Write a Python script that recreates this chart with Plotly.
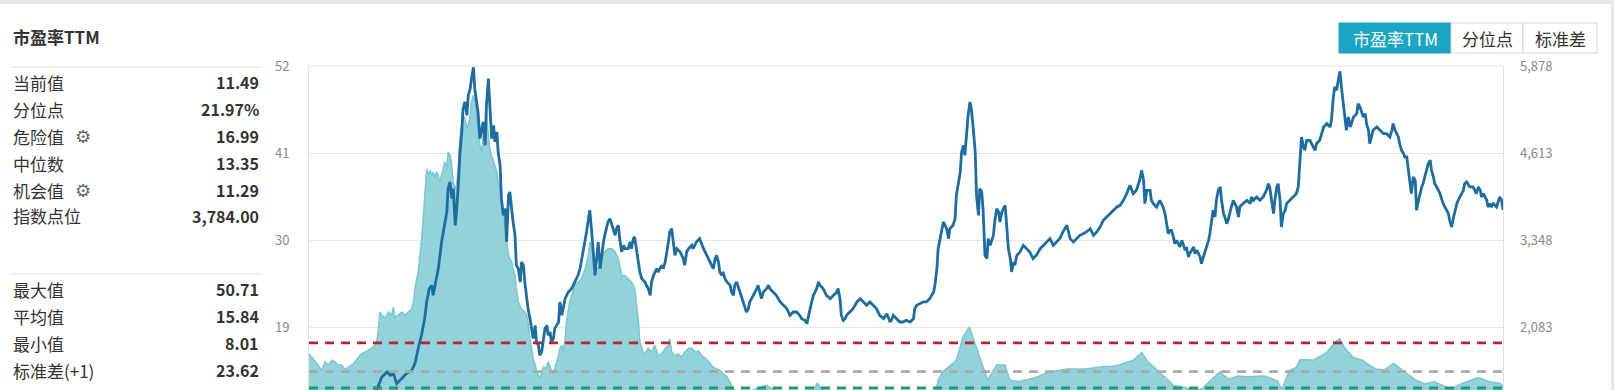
import plotly.graph_objects as go

# ---------------- data ----------------
# index points (right axis) : decimal year, value
idx_t = [2005.27, 2005.35, 2005.45, 2005.50, 2005.60, 2005.70, 2005.80, 2005.95, 2006.05, 2006.15, 2006.25,
         2006.31, 2006.39, 2006.47, 2006.52, 2006.57, 2006.62, 2006.70, 2006.77, 2006.85, 2006.90, 2006.95,
         2007.00, 2007.05, 2007.08, 2007.12, 2007.16, 2007.18, 2007.21, 2007.26, 2007.31, 2007.36, 2007.39,
         2007.41, 2007.44, 2007.47, 2007.49, 2007.52, 2007.54, 2007.57, 2007.59, 2007.62, 2007.64, 2007.67,
         2007.70, 2007.72, 2007.75, 2007.77, 2007.80, 2007.82, 2007.85, 2007.87, 2007.90, 2007.93, 2007.95,
         2007.98, 2008.00, 2008.03, 2008.05, 2008.08, 2008.11, 2008.13, 2008.16, 2008.18, 2008.21, 2008.23,
         2008.26, 2008.29, 2008.31, 2008.34, 2008.36, 2008.39, 2008.41, 2008.44, 2008.46, 2008.49, 2008.52,
         2008.54, 2008.57, 2008.59, 2008.62, 2008.64, 2008.67, 2008.70, 2008.72, 2008.75, 2008.77, 2008.80,
         2008.82, 2008.85, 2008.88, 2008.90, 2008.93, 2008.95, 2008.98, 2009.00, 2009.03, 2009.05, 2009.11,
         2009.13, 2009.16, 2009.18, 2009.21, 2009.26, 2009.31, 2009.36, 2009.41, 2009.44, 2009.46, 2009.49,
         2009.52, 2009.54, 2009.57, 2009.59, 2009.62, 2009.64, 2009.67, 2009.70, 2009.72, 2009.75, 2009.77,
         2009.80, 2009.82, 2009.85, 2009.87, 2009.90, 2009.93, 2009.95, 2009.98, 2010.00, 2010.03, 2010.05,
         2010.08, 2010.11, 2010.13, 2010.18, 2010.21, 2010.23, 2010.26, 2010.28, 2010.31, 2010.34, 2010.36,
         2010.39, 2010.44, 2010.46, 2010.49, 2010.52, 2010.54, 2010.57, 2010.59, 2010.62, 2010.64, 2010.70,
         2010.72, 2010.75, 2010.80, 2010.82, 2010.85, 2010.88, 2010.90, 2010.93, 2010.98, 2011.03, 2011.05,
         2011.08, 2011.11, 2011.16, 2011.18, 2011.23, 2011.28, 2011.34,
         2011.39, 2011.44, 2011.49, 2011.52, 2011.54, 2011.57, 2011.59, 2011.62, 2011.64, 2011.67, 2011.70,
         2011.75, 2011.77, 2011.80, 2011.82, 2011.85, 2011.88, 2011.90, 2011.95, 2012.00, 2012.03, 2012.05,
         2012.11, 2012.16, 2012.18, 2012.21, 2012.23, 2012.26, 2012.31, 2012.34, 2012.36, 2012.41, 2012.46,
         2012.52, 2012.57, 2012.62, 2012.67, 2012.72, 2012.77, 2012.82, 2012.85, 2012.90, 2012.93, 2012.95,
         2012.98, 2013.03, 2013.08, 2013.11, 2013.13, 2013.18, 2013.23, 2013.29, 2013.34, 2013.39, 2013.41,
         2013.44, 2013.46, 2013.49, 2013.52, 2013.54, 2013.59, 2013.64, 2013.70, 2013.75, 2013.80, 2013.85,
         2013.90, 2013.95, 2014.00, 2014.05, 2014.11, 2014.16, 2014.21, 2014.23, 2014.26, 2014.31, 2014.36,
         2014.41, 2014.46, 2014.52, 2014.57, 2014.59, 2014.62, 2014.67, 2014.72, 2014.77, 2014.82, 2014.88,
         2014.90, 2014.93, 2014.95, 2014.98, 2015.03, 2015.08, 2015.11, 2015.13, 2015.18, 2015.21, 2015.23,
         2015.29, 2015.31, 2015.34, 2015.36, 2015.39, 2015.41, 2015.44, 2015.46, 2015.49, 2015.52, 2015.54,
         2015.57, 2015.59, 2015.62, 2015.64, 2015.67, 2015.70, 2015.72, 2015.75, 2015.80, 2015.82, 2015.85,
         2015.88, 2015.90, 2015.93, 2015.95, 2015.98, 2016.00, 2016.03, 2016.06, 2016.08, 2016.11, 2016.13,
         2016.16, 2016.21, 2016.26, 2016.31, 2016.36, 2016.41, 2016.46, 2016.52, 2016.57, 2016.62, 2016.67,
         2016.72, 2016.77, 2016.82, 2016.87, 2016.93, 2016.98, 2017.03, 2017.08, 2017.13, 2017.18, 2017.23,
         2017.29, 2017.34, 2017.39,
         2017.44, 2017.49, 2017.54, 2017.59, 2017.64, 2017.70, 2017.75, 2017.80, 2017.85, 2017.90, 2017.93,
         2017.95, 2018.00, 2018.05, 2018.08, 2018.11, 2018.13, 2018.16, 2018.21, 2018.23, 2018.26, 2018.31,
         2018.36, 2018.41, 2018.44, 2018.46, 2018.49, 2018.52, 2018.54, 2018.57, 2018.59, 2018.62, 2018.67,
         2018.70, 2018.72, 2018.75, 2018.77, 2018.80, 2018.82, 2018.88, 2018.90, 2018.93, 2018.98, 2019.00,
         2019.03, 2019.08, 2019.11, 2019.13, 2019.16, 2019.18, 2019.21, 2019.23, 2019.26, 2019.29, 2019.31,
         2019.34, 2019.36, 2019.39, 2019.41, 2019.44, 2019.46, 2019.49, 2019.52, 2019.54, 2019.57, 2019.59,
         2019.64, 2019.70, 2019.75, 2019.77, 2019.80, 2019.85, 2019.90, 2019.95, 2020.00, 2020.03, 2020.05,
         2020.08, 2020.11, 2020.13, 2020.16, 2020.18, 2020.21, 2020.23, 2020.26, 2020.29, 2020.31, 2020.36,
         2020.41, 2020.46, 2020.49, 2020.52, 2020.54, 2020.57, 2020.59, 2020.62, 2020.67, 2020.72, 2020.75,
         2020.77, 2020.82, 2020.88, 2020.93, 2020.98, 2021.00, 2021.03, 2021.05, 2021.08, 2021.11, 2021.13,
         2021.16, 2021.18, 2021.21, 2021.23, 2021.26, 2021.29, 2021.34, 2021.39, 2021.41, 2021.44, 2021.49,
         2021.52, 2021.54, 2021.57, 2021.59, 2021.62, 2021.64, 2021.70, 2021.75, 2021.80, 2021.85, 2021.90,
         2021.93, 2021.95, 2021.98, 2022.00, 2022.03, 2022.05, 2022.08, 2022.11, 2022.13, 2022.16, 2022.18,
         2022.21, 2022.23, 2022.26, 2022.29, 2022.31, 2022.34, 2022.36, 2022.39, 2022.41, 2022.44, 2022.46,
         2022.49, 2022.52, 2022.54, 2022.57, 2022.59, 2022.62, 2022.67, 2022.72, 2022.77, 2022.80, 2022.82,
         2022.85, 2022.88, 2022.90, 2022.93, 2022.95, 2022.98, 2023.03, 2023.05, 2023.08, 2023.13, 2023.18,
         2023.23, 2023.26, 2023.29, 2023.31, 2023.34, 2023.39, 2023.41, 2023.44, 2023.46, 2023.49, 2023.54,
         2023.57, 2023.59, 2023.62, 2023.64]
idx_v = [985, 930, 870, 835, 900, 930, 890, 925, 990, 1070, 1130,
         1162, 1356, 1429, 1381, 1405, 1259, 1332, 1405, 1453, 1550, 1768,
         1962, 2204, 2447, 2641, 2689, 2544, 2689, 2932, 3319, 3610, 3755,
         4095, 4192, 3949, 4095, 3562, 3755, 4192, 4579, 4919, 5258, 5355,
         5161, 5452, 5549, 5694, 5860, 5549, 5355, 5210, 4822, 4967, 5064,
         4725, 5307, 5694, 5258, 4822, 5016, 4773, 4919, 4628, 4434, 3949,
         3707, 3804, 3319, 3998, 4046, 3755, 3610, 3416, 2980, 2932, 2738,
         3028, 2980, 2738, 2447, 2350, 2204, 2010, 1914, 2107, 1865, 1817,
         1671, 1720, 1962, 2059, 2107, 1962, 2011, 1865, 1914, 2059, 2156,
         2447, 2253, 2350, 2495, 2592, 2641, 2738, 2835, 2932, 3028, 3174,
         3319, 3465, 3659, 3780, 3465, 3222, 2835, 3125, 3319, 2932, 3125,
         3319, 3416, 3513, 3610, 3659, 3562, 3513, 3416, 3513, 3562, 3368,
         3174, 3271, 3222, 3222, 3319, 3222, 3368, 3392, 3174, 3028, 2883,
         2786, 2738, 2689, 2641, 2544, 2738, 2835, 2883, 2932, 2883, 2980,
         2932, 3028, 3319, 3465, 3513, 3271, 3125, 3222, 3174, 3077, 2980,
         3174, 3222, 3271, 3222, 3319, 3368, 3222,
         3125, 3028, 2932, 3077, 3125, 3028, 2883, 2835, 2883, 2786, 2738,
         2689, 2592, 2544, 2689, 2738, 2641, 2592, 2447, 2301, 2350, 2447,
         2544, 2641, 2689, 2592, 2495, 2592, 2641, 2689, 2641, 2592, 2544,
         2447, 2398, 2350, 2253, 2301, 2301, 2253, 2204, 2180, 2132, 2204,
         2350, 2544, 2641, 2738, 2689, 2641, 2544, 2495, 2544, 2592, 2641,
         2495, 2253, 2180, 2204, 2253, 2301, 2350, 2447, 2495, 2447, 2398,
         2447, 2398, 2350, 2253, 2204, 2277, 2156, 2180, 2253, 2204, 2156,
         2156, 2180, 2156, 2204, 2350, 2398, 2423, 2447, 2447, 2495, 2592,
         2689, 2932, 3222, 3368, 3610, 3513, 3368, 3513, 3562, 3659, 3998,
         4337, 4628, 4725, 4579, 4919, 5161, 5355, 5258, 4967, 4628, 3998,
         3707, 4095, 4046, 3804, 3125, 3077, 3368, 3271, 3416, 3610, 3804,
         3755, 3610, 3755, 3804, 3852, 3610, 3222, 3077, 2883, 3028, 2980,
         3125, 3174, 3271, 3222, 3174, 3077, 3125, 3222, 3271, 3319, 3368,
         3271, 3319, 3368, 3465, 3562, 3368, 3319, 3368, 3416, 3440, 3465,
         3513, 3416, 3465,
         3537, 3634, 3683, 3731, 3780, 3828, 3852, 3925, 4022, 4143, 4071,
         4022, 4071, 4216, 4361, 4216, 3877, 4071, 4071, 3925, 3877, 3828,
         3925, 3828, 3731, 3634, 3440, 3489, 3489, 3392, 3295, 3343, 3247,
         3343, 3295, 3198, 3247, 3101, 3150, 3247, 3150, 3198, 3101, 3004,
         3101, 3247, 3343, 3440, 3683, 3780, 3683, 3925, 4071, 4119, 3925,
         3731, 3683, 3586, 3634, 3780, 3828, 3925, 3877, 3828, 3683, 3828,
         3877, 3925, 3877, 3974, 3925, 3974, 3925, 3974, 4071, 4167, 4119,
         3925, 3731, 3925, 4119, 4167, 3925, 3537, 3731, 3780, 3877, 3925,
         3974, 4022, 4119, 4507, 4846, 4701, 4652, 4797, 4797, 4701, 4652,
         4749, 4797, 4991, 5040, 4991, 5088, 5428, 5573, 5525, 5670, 5800,
         5525, 5379, 5088, 4943, 5137, 4991, 5137, 5185, 5331, 5282, 5137,
         5185, 5040, 4943, 4749, 4894, 4943, 4991, 4943, 4894, 4894, 4846,
         4943, 5040, 4943, 4894, 4846, 4749, 4652, 4604, 4555, 4555, 4361,
         4167, 4022, 4264, 4216, 3780, 3925, 4022, 4119, 4167, 4264, 4361,
         4458, 4507, 4361, 4264, 4167, 4119, 4022, 3877, 3780, 3731, 3634,
         3537, 3683, 3780, 3877, 3925, 3974, 4071, 4167, 4192, 4119, 4119,
         4022, 4119, 4071, 3974, 4022, 3925, 3828, 3877, 3828, 3877, 3828,
         3925, 3974, 3925, 3784]

# PE TTM (left axis) : decimal year, value
pe_t = [2005.27, 2005.31, 2005.36, 2005.41, 2005.46, 2005.52, 2005.57, 2005.62, 2005.67, 2005.72, 2005.77,
        2005.82, 2005.87, 2005.93, 2005.98, 2006.03, 2006.08, 2006.13, 2006.18, 2006.23, 2006.28, 2006.31,
        2006.34, 2006.36, 2006.39, 2006.44, 2006.49, 2006.54, 2006.57, 2006.59, 2006.64, 2006.70, 2006.75,
        2006.80, 2006.85, 2006.88, 2006.90, 2006.95, 2007.00, 2007.03, 2007.05, 2007.07, 2007.08, 2007.11,
        2007.13, 2007.16, 2007.18, 2007.21, 2007.23, 2007.26, 2007.28, 2007.31, 2007.34, 2007.36, 2007.39,
        2007.41, 2007.44, 2007.46, 2007.49, 2007.52, 2007.54, 2007.57, 2007.59, 2007.62, 2007.64, 2007.67,
        2007.70, 2007.72, 2007.75, 2007.77, 2007.80, 2007.82, 2007.85, 2007.87, 2007.90, 2007.93, 2007.95,
        2007.98, 2008.00, 2008.03, 2008.05, 2008.08, 2008.11, 2008.13, 2008.16, 2008.18, 2008.21, 2008.23,
        2008.26, 2008.29, 2008.31, 2008.34, 2008.36, 2008.39, 2008.41, 2008.44, 2008.46, 2008.49, 2008.54,
        2008.59, 2008.62, 2008.64, 2008.67, 2008.70, 2008.72, 2008.75, 2008.77, 2008.80, 2008.82, 2008.85,
        2008.88, 2008.90, 2008.93, 2008.95, 2008.98, 2009.00, 2009.03, 2009.05, 2009.08, 2009.11, 2009.13,
        2009.16, 2009.18, 2009.21, 2009.23, 2009.26, 2009.28, 2009.31, 2009.34, 2009.36, 2009.41, 2009.46,
        2009.52, 2009.54, 2009.57, 2009.59, 2009.62, 2009.64, 2009.67, 2009.70, 2009.72, 2009.75, 2009.77,
        2009.82, 2009.87, 2009.93, 2009.98, 2010.03, 2010.08, 2010.13, 2010.18, 2010.23, 2010.28, 2010.31,
        2010.34, 2010.36, 2010.39, 2010.41, 2010.44, 2010.49, 2010.54, 2010.59, 2010.64, 2010.70, 2010.75,
        2010.80, 2010.82, 2010.85, 2010.90, 2010.95, 2011.00, 2011.05, 2011.11, 2011.16, 2011.21, 2011.26,
        2011.31, 2011.36, 2011.42, 2011.49, 2011.59, 2011.70, 2011.80, 2011.85, 2011.95, 2012.05, 2012.15,
        2012.25, 2012.32, 2012.40, 2012.50, 2012.60, 2012.70, 2012.80, 2012.90, 2012.97, 2013.05, 2013.09,
        2013.15, 2013.30, 2013.45, 2013.60, 2013.75, 2013.90, 2014.00, 2014.20, 2014.35, 2014.45, 2014.55,
        2014.70, 2014.85, 2014.91, 2014.95, 2015.02, 2015.23, 2015.33, 2015.43, 2015.50, 2015.57, 2015.64,
        2015.71, 2015.85, 2015.98, 2016.05, 2016.19, 2016.40, 2016.67, 2016.94, 2017.22, 2017.49, 2017.64,
        2017.77, 2017.95, 2018.08, 2018.18, 2018.26, 2018.32, 2018.46, 2018.57, 2018.73, 2018.87, 2019.01,
        2019.14, 2019.28, 2019.42, 2019.56, 2019.70, 2019.85, 2019.97, 2020.17, 2020.24, 2020.35, 2020.46,
        2020.52, 2020.72, 2020.93, 2021.07, 2021.13, 2021.20, 2021.34, 2021.48, 2021.54, 2021.68, 2021.82,
        2021.96, 2022.10, 2022.26, 2022.30, 2022.44, 2022.58, 2022.77, 2022.85, 2022.99, 2023.18, 2023.26,
        2023.47, 2023.59, 2023.64]
pe_v = [15.6, 15.2, 14.6, 14.2, 13.5, 14.6, 14.2, 14.8, 14.6, 14.2, 14.2,
        13.7, 13.9, 14.2, 14.6, 15.2, 15.6, 15.8, 16.0, 16.3, 16.7, 17.1,
        18.8, 20.9, 20.5, 20.1, 20.9, 20.5, 21.5, 20.1, 20.5, 20.9, 20.5,
        20.9, 21.3, 22.2, 23.9, 26.0, 29.8, 33.1, 35.7, 38.6, 39.0, 38.2,
        38.8, 38.2, 38.6, 37.8, 38.6, 38.2, 37.3, 38.2, 39.5, 39.9, 39.0,
        41.1, 40.7, 39.9, 37.3, 36.5, 36.9, 39.5, 42.8, 44.9, 45.8, 45.4,
        44.1, 44.5, 45.8, 47.5, 48.3, 47.5, 46.2, 43.7, 42.0, 41.1, 43.2,
        44.9, 45.8, 43.2, 41.6, 40.7, 39.9, 39.5, 38.6, 37.3, 36.5, 35.2,
        33.1, 31.4, 29.8, 28.1, 27.6, 27.2, 26.4, 25.5, 23.9, 22.2, 21.3,
        20.9, 20.5, 19.6, 17.5, 15.8, 15.0, 14.2, 13.5, 12.9, 12.5, 13.3,
        14.0, 13.7, 14.0, 14.6, 14.0, 13.5, 13.3, 13.7, 14.6, 15.4, 16.3,
        16.7, 15.8, 17.5, 19.6, 21.3, 22.2, 23.0, 23.9, 24.3, 24.7, 25.1,
        26.4, 27.2, 28.1, 29.8, 28.9, 27.6, 27.2, 26.4, 26.4, 27.2, 28.1,
        28.5, 28.9, 28.9, 28.5, 27.6, 25.5, 25.5, 25.1, 24.7, 23.9, 21.7,
        19.6, 17.1, 16.3, 15.8, 15.6, 16.3, 15.8, 16.7, 15.4, 15.6, 16.3,
        16.7, 17.5, 15.8, 15.4, 15.6, 15.2, 15.8, 16.3, 16.3, 15.8, 16.0,
        15.4, 15.1, 14.6, 13.9, 13.5, 12.7, 11.2, 10.9, 10.5, 10.8, 11.2,
        11.5, 11.6, 11.1, 10.6, 10.2, 10.0, 9.8, 9.6, 10.2, 11.4, 11.9,
        11.2, 10.5, 9.5, 9.3, 9.5, 9.2, 8.8, 8.3, 8.1, 8.01, 8.3,
        8.7, 9.5, 10.8, 12.3, 13.3, 14.8, 17.7, 19.0, 17.3, 15.6, 14.0,
        12.3, 14.2, 14.2, 12.3, 12.1, 12.5, 13.3, 13.7, 13.7, 14.0, 14.0,
        14.3, 14.8, 15.8, 14.6, 14.0, 13.5, 12.5, 11.6, 11.4, 11.0, 11.2,
        12.2, 13.3, 12.4, 12.8, 12.7, 12.8, 12.8, 12.2, 11.1, 13.5, 13.9,
        14.9, 14.8, 15.8, 17.2, 17.5, 16.4, 15.1, 14.8, 14.4, 13.7, 13.6,
        14.4, 13.5, 12.6, 12.3, 11.8, 12.1, 11.4, 11.2, 11.8, 12.4, 12.6,
        12.0, 11.9, 11.49]

# summary panel
info_labels = ["当前值", "分位点", "危险值", "中位数", "机会值", "指数点位"]
info_values = ["11.49", "21.97%", "16.99", "13.35", "11.29", "3,784.00"]
stat_labels = ["最大值", "平均值", "最小值", "标准差(+1)", "标准差(-1)"]
stat_values = ["50.71", "15.84", "8.01", "23.62", "8.06"]
danger, median, chance = 16.99, 13.35, 11.29

pe_ticks = [19, 30, 41, 52]
idx_ticks = [2083, 3348, 4613, 5878]
pe_axis = [8, 52]
idx_axis = [818, 5878]
buttons = ["市盈率TTM", "分位点", "标准差"]

# ---------------- layout geometry ----------------
W, H = 1614, 390
L, R, T = 309, 1503, 66
PW, PH = R - L, H - T
FULL_PH = 348  # full plot height (axis continues below the visible page)
frac = PH / FULL_PH
pe_range = [pe_axis[1] - (pe_axis[1] - pe_axis[0]) * frac, pe_axis[1]]
idx_range = [idx_axis[1] - (idx_axis[1] - idx_axis[0]) * frac, idx_axis[1]]


def px(x):
    return (x - L) / PW


def py(y):
    return (H - y) / PH


FONT = "Microsoft YaHei, Noto Sans CJK SC, sans-serif"

fig = go.Figure()
fig.add_trace(go.Scatter(
    x=pe_t, y=pe_v, mode="lines", fill="tozeroy",
    line=dict(color="#7cc6d0", width=1.5), fillcolor="#93d2da",
    hoverinfo="skip", showlegend=False))
fig.add_trace(go.Scatter(
    x=idx_t, y=idx_v, mode="lines", yaxis="y2",
    line=dict(color="#1f6c9f", width=2.8),
    hoverinfo="skip", showlegend=False))

shapes = []
for val, col in [(danger, "#b8262b"), (median, "#a9a9a9"), (chance, "#1f9a6c")]:
    shapes.append(dict(type="line", xref="paper", yref="y", x0=0, x1=1, y0=val, y1=val,
                       line=dict(color=col, width=2.8, dash="9px,7px"), layer="above"))
# separators
for yy in (67, 274):
    shapes.append(dict(type="line", xref="paper", yref="paper", x0=px(10), x1=px(262),
                       y0=py(yy), y1=py(yy), line=dict(color="#e3e3e3", width=1)))
# top border of plot
shapes.append(dict(type="line", xref="paper", yref="paper", x0=0, x1=1, y0=1, y1=1,
                   line=dict(color="#e3e3e3", width=1)))
# page frame
shapes.append(dict(type="rect", xref="paper", yref="paper", x0=px(0), x1=px(W), y0=py(4), y1=py(0),
                   fillcolor="#e8e8e8", line=dict(width=0), layer="above"))
shapes.append(dict(type="rect", xref="paper", yref="paper", x0=px(1611), x1=px(W), y0=py(H), y1=py(0),
                   fillcolor="#e8e8e8", line=dict(width=0), layer="above"))
# buttons
btn_x = [1339, 1451, 1523, 1597]
for i, name in enumerate(buttons):
    active = i == 0
    shapes.append(dict(type="rect", xref="paper", yref="paper",
                       x0=px(btn_x[i]), x1=px(btn_x[i + 1]), y0=py(53), y1=py(23),
                       fillcolor="#1ba5c3" if active else "#ffffff",
                       line=dict(color="#1ba5c3" if active else "#d5d5d5", width=1)))

ann = []
ann.append(dict(x=px(11), y=py(36), xref="paper", yref="paper", xanchor="left", yanchor="middle",
                text="<b>市盈率TTM</b>", showarrow=False, font=dict(size=17, color="#333", family=FONT)))
rows1 = [82, 109, 136, 163, 190, 216]
for lab, val, yy in zip(info_labels, info_values, rows1):
    ann.append(dict(x=px(11), y=py(yy), xref="paper", yref="paper", xanchor="left", yanchor="middle",
                    text=lab, showarrow=False, font=dict(size=17, color="#333", family=FONT)))
    ann.append(dict(x=px(261), y=py(yy), xref="paper", yref="paper", xanchor="right", yanchor="middle",
                    text="<b>" + val + "</b>", showarrow=False, font=dict(size=16, color="#333", family=FONT)))
for yy in (136, 190):
    ann.append(dict(x=px(83), y=py(yy), xref="paper", yref="paper", xanchor="center", yanchor="middle",
                    text="⚙", showarrow=False, font=dict(size=18, color="#666", family="DejaVu Sans")))
rows2 = [289, 316, 343, 370, 397]
for lab, val, yy in zip(stat_labels, stat_values, rows2):
    ann.append(dict(x=px(11), y=py(yy), xref="paper", yref="paper", xanchor="left", yanchor="middle",
                    text=lab, showarrow=False, font=dict(size=17, color="#333", family=FONT)))
    ann.append(dict(x=px(261), y=py(yy), xref="paper", yref="paper", xanchor="right", yanchor="middle",
                    text="<b>" + val + "</b>", showarrow=False, font=dict(size=16, color="#333", family=FONT)))
for i, name in enumerate(buttons):
    ann.append(dict(x=px((btn_x[i] + btn_x[i + 1]) / 2), y=py(38), xref="paper", yref="paper",
                    xanchor="center", yanchor="middle", text=name, showarrow=False,
                    font=dict(size=17, color="#ffffff" if i == 0 else "#333", family=FONT)))

fig.update_layout(
    width=W, height=H,
    margin=dict(l=L, r=W - R, t=T, b=0, pad=0),
    paper_bgcolor="#ffffff", plot_bgcolor="#ffffff",
    font=dict(family=FONT),
    xaxis=dict(range=[pe_t[0], pe_t[-1]], showgrid=False, zeroline=False,
               showticklabels=False, showline=False, fixedrange=True),
    yaxis=dict(range=pe_range, tickvals=pe_ticks, showgrid=True, gridcolor="#e6e6e6", gridwidth=1,
               zeroline=False, showline=True, linecolor="#e0e0e0", mirror=True,
               tickfont=dict(size=13, color="#8a8a8a"), ticks="", ticklabelstandoff=16),
    yaxis2=dict(range=idx_range, tickvals=idx_ticks, overlaying="y", side="right",
                showgrid=False, zeroline=False, tickformat=",",
                tickfont=dict(size=13, color="#8a8a8a"), ticks="", ticklabelstandoff=16),
    shapes=shapes, annotations=ann, showlegend=False,
)

fig.write_html(
    "out.html",
    config={"displayModeBar": False},
    post_script="document.body.style.margin='0';document.body.style.padding='0';"
                "document.body.style.overflow='hidden';",
)
